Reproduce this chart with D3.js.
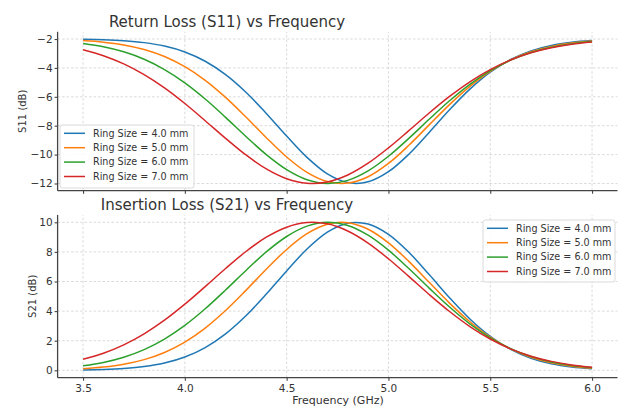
<!DOCTYPE html>
<html>
<head>
  <script src="https://cdn.jsdelivr.net/npm/d3@7/dist/d3.min.js"></script>
  <title>S11 / S21 vs Frequency</title>
  <style>
    body { margin: 0; background: #fff; }
    svg text { font-family: "DejaVu Sans", sans-serif; fill: #333; }
    .grid line { stroke: #d0d0d0; stroke-width: 0.8; stroke-dasharray: 2.5,2; }
    .axis path, .axis line { stroke: #444; stroke-width: 1.1; }
    .axis text { font-size: 10.5px; }
  </style>
</head>
<body>
<svg id="chart" width="620" height="408"></svg>
<script>
  // values
  var freq = [3.5, 3.6, 3.7, 3.8, 3.9, 4.0, 4.1, 4.2, 4.3, 4.4, 4.5, 4.6, 4.7,
              4.8, 4.9, 5.0, 5.1, 5.2, 5.3, 5.4, 5.5, 5.6, 5.7, 5.8, 5.9, 6.0];

  var ringLabels = ["Ring Size = 4.0 mm", "Ring Size = 5.0 mm", "Ring Size = 6.0 mm", "Ring Size = 7.0 mm"];
  var ringColors = ["#1f77b4", "#ff7f0e", "#2ca02c", "#d62728"];

  var s11_40 = [-2.022, -2.053, -2.119, -2.249, -2.489, -2.897, -3.538, -4.463, -5.682, -7.148, -8.717, -10.195, -11.337,
                -11.940, -11.886, -11.186, -9.975, -8.468, -6.901, -5.469, -4.295, -3.418, -2.818, -2.442, -2.222, -2.105];
  var s11_50 = [-2.110, -2.218, -2.408, -2.722, -3.207, -3.909, -4.856, -6.039, -7.401, -8.830, -10.166, -11.231, -11.868,
                -11.973, -11.531, -10.612, -9.358, -7.945, -6.541, -5.280, -4.240, -3.446, -2.883, -2.510, -2.278, -2.144];
  var s11_60 = [-2.307, -2.534, -2.886, -3.401, -4.112, -5.034, -6.155, -7.423, -8.746, -10.000, -11.040, -11.739, -11.999,
                -11.786, -11.128, -10.115, -8.876, -7.554, -6.276, -5.137, -4.194, -3.462, -2.929, -2.563, -2.325, -2.179];
  var s11_70 = [-2.742, -3.153, -3.720, -4.463, -5.385, -6.466, -7.656, -8.876, -10.026, -10.992, -11.671, -11.984, -11.895,
                -11.413, -10.597, -9.536, -8.342, -7.123, -5.973, -4.958, -4.114, -3.450, -2.955, -2.604, -2.366, -2.213];

  var s21_40 = [0.022, 0.053, 0.119, 0.249, 0.489, 0.897, 1.538, 2.463, 3.682, 5.148, 6.717, 8.195, 9.337,
                9.940, 9.886, 9.186, 7.975, 6.468, 4.901, 3.469, 2.295, 1.418, 0.818, 0.442, 0.222, 0.105];
  var s21_50 = [0.110, 0.218, 0.408, 0.722, 1.207, 1.909, 2.856, 4.039, 5.401, 6.830, 8.166, 9.231, 9.868,
                9.973, 9.531, 8.612, 7.358, 5.945, 4.541, 3.280, 2.240, 1.446, 0.883, 0.510, 0.278, 0.144];
  var s21_60 = [0.307, 0.534, 0.886, 1.401, 2.112, 3.034, 4.155, 5.423, 6.746, 8.000, 9.040, 9.739, 9.999,
                9.786, 9.128, 8.115, 6.876, 5.554, 4.276, 3.137, 2.194, 1.462, 0.929, 0.563, 0.325, 0.179];
  var s21_70 = [0.742, 1.153, 1.720, 2.463, 3.385, 4.466, 5.656, 6.876, 8.026, 8.992, 9.671, 9.984, 9.895,
                9.413, 8.597, 7.536, 6.342, 5.123, 3.973, 2.958, 2.114, 1.450, 0.955, 0.604, 0.366, 0.213];

  var xTicks = [3.5, 4.0, 4.5, 5.0, 5.5, 6.0];
  var s11Ticks = [-12, -10, -8, -6, -4, -2];
  var s21Ticks = [0, 2, 4, 6, 8, 10];

  var svg = d3.select("#chart");

  var x = d3.scaleLinear().domain([3.375, 6.125]).range([57.6, 617.5]);
  var yTop = d3.scaleLinear().domain([-12.5, -1.5]).range([190.7, 31.8]);
  var yBot = d3.scaleLinear().domain([-0.5, 10.5]).range([377.7, 214.9]);

  function drawPanel(y, yTicks, series, title, titleY, ylabel, ylabelX, showXLabels) {
    var g = svg.append("g");
    var y0 = y.range()[0], y1 = y.range()[1];

    // grid
    var grid = g.append("g").attr("class", "grid");
    grid.selectAll(".vx").data(xTicks).enter().append("line")
      .attr("x1", function(d) { return x(d); }).attr("x2", function(d) { return x(d); })
      .attr("y1", y0).attr("y2", y1);
    grid.selectAll(".hy").data(yTicks).enter().append("line")
      .attr("x1", x.range()[0]).attr("x2", x.range()[1])
      .attr("y1", function(d) { return y(d); }).attr("y2", function(d) { return y(d); });

    // lines
    var line = d3.line()
      .x(function(d, i) { return x(freq[i]); })
      .y(function(d) { return y(d); })
      .curve(d3.curveCatmullRom.alpha(0.5));
    series.forEach(function(s, i) {
      g.append("path").datum(s)
        .attr("d", line)
        .attr("fill", "none")
        .attr("stroke", ringColors[i])
        .attr("stroke-width", 1.5);
    });

    // axes
    var xAxis = d3.axisBottom(x).tickValues(xTicks).tickSize(3).tickSizeOuter(0).tickPadding(4)
      .tickFormat(showXLabels ? d3.format(".1f") : function() { return ""; });
    g.append("g").attr("class", "axis").attr("transform", "translate(0," + y0 + ")").call(xAxis);

    var yAxis = d3.axisLeft(y).tickValues(yTicks).tickSize(3).tickSizeOuter(0).tickPadding(2)
      .tickFormat(function(d) { return String(d).replace("-", "\u2212"); });
    g.append("g").attr("class", "axis").attr("transform", "translate(" + x.range()[0] + ",0)").call(yAxis);

    g.selectAll(".axis .domain").attr("d", null);
    g.append("line").attr("x1", x.range()[0]).attr("x2", x.range()[1]).attr("y1", y0).attr("y2", y0)
      .attr("stroke", "#444").attr("stroke-width", 1.3);
    g.append("line").attr("x1", x.range()[0]).attr("x2", x.range()[0]).attr("y1", y0).attr("y2", y1)
      .attr("stroke", "#444").attr("stroke-width", 1.3);

    // title and y label
    g.append("text").attr("x", 227).attr("y", titleY)
      .attr("text-anchor", "middle").style("font-size", "15px").text(title);
    g.append("text")
      .attr("transform", "translate(" + ylabelX + "," + ((y0 + y1) / 2) + ") rotate(-90)")
      .attr("text-anchor", "middle").style("font-size", "10px").text(ylabel);
    return g;
  }

  function drawLegend(bx, by, bw, bh) {
    var lg = svg.append("g");
    lg.append("rect").attr("x", bx).attr("y", by).attr("width", bw).attr("height", bh)
      .attr("rx", 2.5).attr("fill", "#fff").attr("fill-opacity", 0.85)
      .attr("stroke", "#d0d0d0").attr("stroke-width", 0.8);
    ringLabels.forEach(function(lab, i) {
      var ry = by + 8.3 + i * 14.4;
      lg.append("line").attr("x1", bx + 4).attr("x2", bx + 25).attr("y1", ry).attr("y2", ry)
        .attr("stroke", ringColors[i]).attr("stroke-width", 1.5);
      lg.append("text").attr("x", bx + 33).attr("y", ry).attr("dy", "0.35em")
        .style("font-size", "9.6px").text(lab);
    });
  }

  drawPanel(yTop, s11Ticks, [s11_40, s11_50, s11_60, s11_70],
            "Return Loss (S11) vs Frequency", 27, "S11 (dB)", 25.5, false);
  drawLegend(60, 125, 134, 63);

  drawPanel(yBot, s21Ticks, [s21_40, s21_50, s21_60, s21_70],
            "Insertion Loss (S21) vs Frequency", 209.5, "S21 (dB)", 35.5, true);
  drawLegend(483, 220, 132, 62);

  svg.append("text").attr("x", 338).attr("y", 404).attr("text-anchor", "middle")
    .style("font-size", "11px").text("Frequency (GHz)");
</script>
</body>
</html>
